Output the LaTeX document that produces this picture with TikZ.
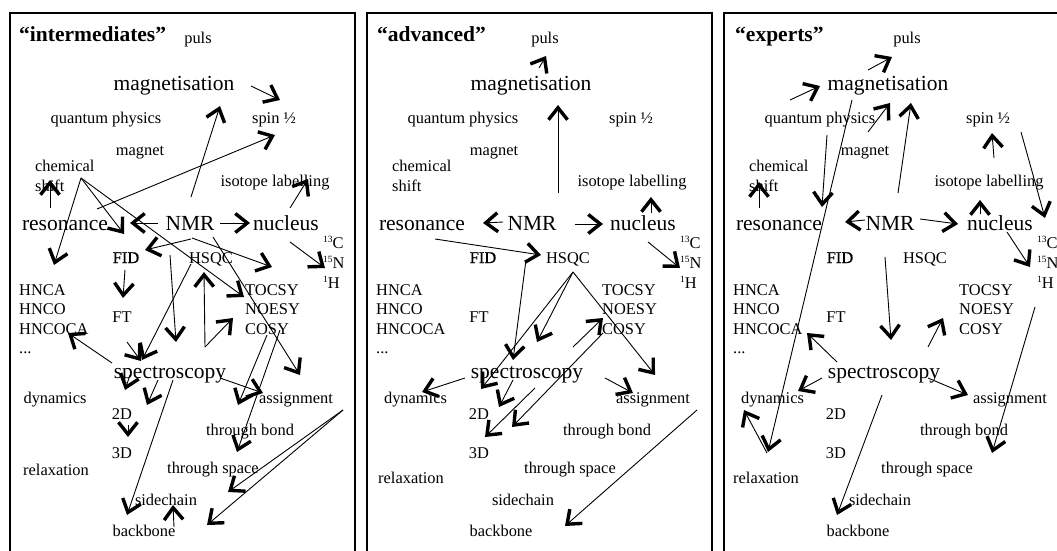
\documentclass[tikz,border=0pt]{standalone}
\usepackage{fontspec}
\setmainfont{Liberation Serif}
\newfontfamily\fidfont[FakeBold=0.6]{Liberation Serif}
\usetikzlibrary{arrows.meta}

\newcommand\iso[2]{{\fontsize{9.5}{10}\selectfont\raisebox{6pt}{#1}}#2}

\tikzset{
  term/.style={inner sep=0pt,anchor=base,font=\fontsize{16.4}{20}\selectfont},
  bigterm/.style={term,font=\fontsize{21.5}{24}\selectfont},
  listitem/.style={term,anchor=base west},
  level/.style={inner sep=0pt,anchor=base west,font=\bfseries\fontsize{21.5}{24}\selectfont},
  panel/.style={line width=1.6pt},
  link/.style={line width=0.9pt,-{Straight Barb[length=12pt,width=19pt,line width=3.4pt 0]}}
}

% #1 offset, #2 puls, #3 magnet, #4 NMR, #5 dynamics, #6/#7 relaxation
\newcommand\conceptnodes[7]{
  \draw[panel] (#1+10,537) rectangle (#1+355,-20);
  \node[term] (puls) at (#1+#2,506) {puls};
  \node[bigterm] (mag) at (#1+174,459) {magnetisation};
  \node[term] (quantum) at (#1+106,426) {quantum physics};
  \node[term] (spin) at (#1+274,426) {spin ½};
  \node[term] (magnet) at (#1+#3,395) {magnet};
  \node[term,anchor=north west,align=left] (chem) at (#1+35,390) {chemical\\shift};
  \node[term] (label) at (#1+275,363) {isotope labelling};
  \node[bigterm] (resonance) at (#1+65,320) {resonance};
  \node[bigterm] (NMR) at (#1+#4,320) {NMR};
  \node[bigterm] (nucleus) at (#1+286,320) {nucleus};
  \node[listitem] (C13) at (#1+323,302) {\iso{13}{C}};
  \node[listitem] (N15) at (#1+323,282) {\iso{15}{N}};
  \node[listitem] (H1) at (#1+323,262) {\iso{1}{H}};
  \node[term] (FID) at (#1+126,287) {\fidfont FID};
  \node[term] (HSQC) at (#1+211,287) {HSQC};
  \node[listitem] (HNCA) at (#1+19,255) {HNCA};
  \node[listitem] (HNCO) at (#1+19,236) {HNCO};
  \node[listitem] (HNCOCA) at (#1+19,216) {HNCOCA};
  \node[listitem] (dots) at (#1+19,197) {...};
  \node[term] (FT) at (#1+122,228) {FT};
  \node[listitem] (TOCSY) at (#1+245,255) {TOCSY};
  \node[listitem] (NOESY) at (#1+245,236) {NOESY};
  \node[listitem] (COSY) at (#1+245,216) {COSY};
  \node[bigterm] (spec) at (#1+170,172) {spectroscopy};
  \node[term] (dynamics) at (#1+#5,147) {dynamics};
  \node[term] (assignment) at (#1+296,147) {assignment};
  \node[term] (twoD) at (#1+122,131) {2D};
  \node[term] (bond) at (#1+250,115) {through bond};
  \node[term] (threeD) at (#1+122,92) {3D};
  \node[term] (relaxation) at (#1+#6,#7) {relaxation};
  \node[term] (space) at (#1+213,77) {through space};
  \node[term] (sidechain) at (#1+166,45) {sidechain};
  \node[term] (backbone) at (#1+144,14) {backbone};
}

\begin{document}
\begin{tikzpicture}[x=1pt,y=1pt]
\useasboundingbox (0,0) rectangle (1057,550);
\clip (0,0) rectangle (1057,550);

% intermediates
\begin{scope}[name prefix=a-]
\conceptnodes{0}{198}{140}{190}{55}{56}{75}
\node[level] (title) at (19,508) {“intermediates”};
\draw[link] ([xshift=77pt,yshift=5pt]mag.base) -- ([xshift=6pt,yshift=24pt]spin.base);
\draw[link] ([xshift=1pt,yshift=33pt]NMR.base) -- ([xshift=46pt,yshift=-15pt]mag.base);
\draw[link] ([xshift=32pt,yshift=21pt]resonance.base) -- ([xshift=1pt,yshift=-11pt]spin.base);
\draw[link] ([xshift=-15pt,yshift=22pt]resonance.base) -- ([xshift=15pt,yshift=-20pt]chem.north west);
\draw[link] ([xshift=46pt,yshift=-18pt]chem.north west) -- ([xshift=35pt,yshift=30pt]HNCA.base west);
\draw[link] ([xshift=46pt,yshift=-18pt]chem.north west) -- ([xshift=-2pt,yshift=29pt]FID.base);
\draw[link] ([xshift=46pt,yshift=-18pt]chem.north west) -- ([xshift=-1pt,yshift=-2pt]TOCSY.base west);
\draw[link] ([xshift=2pt,yshift=-8pt]NMR.base) -- ([xshift=27pt,yshift=28pt]TOCSY.base west);
\draw[link] ([xshift=23pt,yshift=-7pt]NMR.base) -- ([xshift=4pt,yshift=28pt]assignment.base);
\draw[link] ([xshift=30pt,yshift=7pt]NMR.base) -- ([xshift=-36pt,yshift=7pt]nucleus.base);
\draw[link] ([xshift=4pt,yshift=22pt]nucleus.base) -- ([xshift=33pt,yshift=8pt]label.base);
\draw[link] ([xshift=4pt,yshift=-12pt]nucleus.base) -- ([xshift=2pt]N15.base west);
\draw[link] ([xshift=1pt,yshift=-9pt]NMR.base) -- ([xshift=19pt,yshift=13pt]FID.base);
\draw[link] ([xshift=-32pt,yshift=7pt]NMR.base) -- ([xshift=65pt,yshift=7pt]resonance.base);
\draw[link] ([xshift=-20pt,yshift=-25pt]NMR.base) -- ([xshift=6pt,yshift=36pt]spec.base);
\draw[link] ([xshift=-20pt,yshift=-1pt]HSQC.base) -- ([xshift=-28pt,yshift=18pt]spec.base);
\draw[link] ([xshift=-1pt,yshift=-7pt]FID.base) -- ([xshift=1pt,yshift=24pt]FT.base);
\draw[link] ([xshift=5pt,yshift=-20pt]FT.base) -- ([xshift=-29pt,yshift=17pt]spec.base);
\draw[link] ([xshift=35pt,yshift=31pt]spec.base) -- ([xshift=-7pt,yshift=-9pt]HSQC.base);
\draw[link] ([xshift=35pt,yshift=31pt]spec.base) -- ([xshift=-12pt,yshift=-4pt]NOESY.base west);
\draw[link] ([xshift=-58pt,yshift=15pt]spec.base) -- ([xshift=49pt,yshift=1pt]HNCOCA.base west);
\draw[link] ([xshift=-40pt,yshift=3pt]spec.base) -- ([xshift=3pt,yshift=29pt]twoD.base);
\draw[link] ([xshift=-12pt,yshift=-2pt]spec.base) -- ([xshift=25pt,yshift=14pt]twoD.base);
\draw[link] ([xshift=6pt,yshift=-6pt]twoD.base) -- ([xshift=6pt,yshift=21pt]threeD.base);
\draw[link] ([xshift=3pt,yshift=-2pt]spec.base) -- ([xshift=-17pt,yshift=21pt]backbone.base);
\draw[link] ([xshift=30pt,yshift=9pt]backbone.base) -- ([xshift=7pt]sidechain.base);
\draw[link] ([xshift=50pt]spec.base) -- ([xshift=-33pt,yshift=10pt]assignment.base);
\draw[link] ([xshift=22pt,yshift=-1pt]COSY.base west) -- ([xshift=-12pt,yshift=30pt]bond.base);
\draw[link] ([xshift=35pt,yshift=4pt]COSY.base west) -- ([xshift=24pt,yshift=21pt]space.base);
\draw[link] ([xshift=47pt,yshift=-7pt]assignment.base) -- ([xshift=62pt,yshift=13pt]sidechain.base);
\draw[link] ([xshift=47pt,yshift=-7pt]assignment.base) -- ([xshift=63pt,yshift=11pt]backbone.base);
\end{scope}

% advanced
\begin{scope}[name prefix=b-]
\conceptnodes{357}{188}{137}{175}{58.5}{54}{67}
\node[level] (title) at (377,508) {“advanced”};
\draw[link] ([xshift=8pt,yshift=23pt]mag.base) -- ([xshift=1pt,yshift=-12pt]puls.base);
\draw[link] ([xshift=26pt,yshift=37pt]NMR.base) -- ([xshift=27pt,yshift=-14pt]mag.base);
\draw[link] ([xshift=-29pt,yshift=8pt]NMR.base) -- ([xshift=61pt,yshift=7pt]resonance.base);
\draw[link] ([xshift=43pt,yshift=6pt]NMR.base) -- ([xshift=-40pt,yshift=6pt]nucleus.base);
\draw[link] ([xshift=8pt,yshift=17pt]nucleus.base) -- ([xshift=19pt,yshift=-10pt]label.base);
\draw[link] ([xshift=5pt,yshift=-12pt]nucleus.base) -- (N15.base west);
\draw[link] ([xshift=13pt,yshift=-9pt]resonance.base) -- ([xshift=-27pt,yshift=8pt]HSQC.base);
\draw[link] ([xshift=-42pt,yshift=3pt]HSQC.base) -- ([xshift=-14pt,yshift=18pt]spec.base);
\draw[link] ([xshift=5pt,yshift=-9pt]HSQC.base) -- ([xshift=10pt,yshift=36pt]spec.base);
\draw[link] ([xshift=5pt,yshift=-9pt]HSQC.base) -- ([xshift=2pt,yshift=30pt]twoD.base);
\draw[link] ([xshift=5pt,yshift=-9pt]HSQC.base) -- ([xshift=2pt,yshift=28pt]assignment.base);
\draw[link] ([xshift=-62pt]spec.base) -- ([xshift=6.5pt,yshift=11pt]dynamics.base);
\draw[link] ([xshift=-14pt,yshift=-2pt]spec.base) -- ([xshift=20pt,yshift=12pt]twoD.base);
\draw[link] ([xshift=8pt,yshift=-10pt]spec.base) -- ([xshift=6pt,yshift=21pt]threeD.base);
\draw[link] ([xshift=1pt,yshift=1pt]COSY.base west) -- ([xshift=33pt,yshift=31pt]threeD.base);
\draw[link] ([xshift=46pt,yshift=31pt]spec.base) -- ([xshift=1pt,yshift=16pt]COSY.base west);
\draw[link] ([xshift=78pt]spec.base) -- ([xshift=-20pt,yshift=10pt]assignment.base);
\draw[link] ([xshift=44pt,yshift=-7pt]assignment.base) -- ([xshift=64pt,yshift=10pt]backbone.base);
\end{scope}

% experts
\begin{scope}[name prefix=c-]
\conceptnodes{714}{193}{151}{176}{58.5}{52}{67}
\node[level] (title) at (735,508) {“experts”};
\draw[link] ([xshift=-20pt,yshift=21pt]mag.base) -- ([xshift=-15pt,yshift=-13pt]puls.base);
\draw[link] ([xshift=-30pt,yshift=24pt]quantum.base) -- ([xshift=-68pt,yshift=5pt]mag.base);
\draw[link] ([xshift=3pt,yshift=23pt]magnet.base) -- ([xshift=2pt,yshift=-12pt]mag.base);
\draw[link] ([xshift=8pt,yshift=37pt]NMR.base) -- ([xshift=23pt,yshift=-12pt]mag.base);
\draw[link] ([xshift=-36pt,yshift=-9pt]mag.base) -- ([xshift=2pt,yshift=31pt]relaxation.base);
\draw[link] ([xshift=7pt,yshift=-11pt]quantum.base) -- ([xshift=43pt,yshift=23pt]resonance.base);
\draw[link] ([xshift=-20pt,yshift=22pt]resonance.base) -- ([xshift=10pt,yshift=-22pt]chem.north west);
\draw[link] ([xshift=-25pt,yshift=10pt]NMR.base) -- ([xshift=66pt,yshift=8pt]resonance.base);
\draw[link] ([xshift=30pt,yshift=11pt]NMR.base) -- ([xshift=-42pt,yshift=6pt]nucleus.base);
\draw[link] ([xshift=-20pt,yshift=16pt]nucleus.base) -- ([xshift=-9pt,yshift=-13pt]label.base);
\draw[link] ([xshift=5pt,yshift=29pt]label.base) -- ([xshift=4pt,yshift=-9pt]spin.base);
\draw[link] ([xshift=33pt,yshift=-8pt]spin.base) -- ([xshift=8pt,yshift=30pt]C13.base west);
\draw[link] ([xshift=7pt,yshift=-2pt]nucleus.base) -- ([xshift=-7pt,yshift=1pt]N15.base west);
\draw[link] ([xshift=-5pt,yshift=-27pt]NMR.base) -- ([xshift=7pt,yshift=38pt]spec.base);
\draw[link] ([xshift=44pt,yshift=31pt]spec.base) -- ([xshift=-16pt,yshift=-4pt]NOESY.base west);
\draw[link] ([xshift=-47pt,yshift=16pt]spec.base) -- ([xshift=74pt,yshift=1pt]HNCOCA.base west);
\draw[link] ([xshift=-62pt]spec.base) -- ([xshift=25.5pt,yshift=12pt]dynamics.base);
\draw[link] ([xshift=44pt]spec.base) -- ([xshift=-42pt,yshift=8pt]assignment.base);
\draw[link] ([xshift=-2pt,yshift=-17pt]spec.base) -- ([xshift=-21pt,yshift=21pt]backbone.base);
\draw[link] ([xshift=1pt,yshift=30pt]relaxation.base) -- ([xshift=-28.5pt,yshift=-7pt]dynamics.base);
\draw[link] ([xshift=-2pt,yshift=-19pt]H1.base west) -- ([xshift=28pt,yshift=-18pt]bond.base);
\end{scope}
\end{tikzpicture}
\end{document}
